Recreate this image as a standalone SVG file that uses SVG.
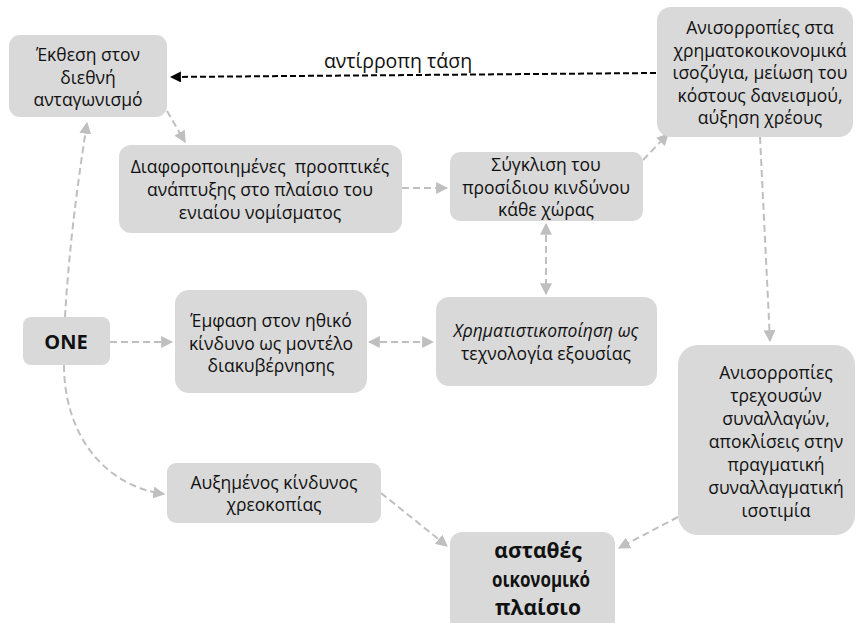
<svg xmlns="http://www.w3.org/2000/svg" width="856" height="623" viewBox="0 0 856 623">
<defs>
<style>
.box{fill:#d9d9d9;stroke:none}
.t{font-family:"Open Sans","Noto Sans","DejaVu Sans",sans-serif;font-size:17.5px;fill:#111;text-anchor:middle}
.b{font-weight:bold}
.h{font-size:21px}
.g{fill:none;stroke:#bfbfbf;stroke-width:2;stroke-dasharray:7 4}
.k{fill:none;stroke:#000;stroke-width:2;stroke-dasharray:6 3}
</style>
<marker id="ag" viewBox="0 0 10 10" refX="9" refY="5" markerWidth="6" markerHeight="6" orient="auto-start-reverse"><path d="M0,0 L10,5 L0,10 z" fill="#bfbfbf"/></marker>
<marker id="ak" viewBox="0 0 10 10" refX="9" refY="5" markerWidth="5.5" markerHeight="5.5" orient="auto"><path d="M0,0 L10,5 L0,10 z" fill="#000"/></marker>
</defs>
<rect width="856" height="623" fill="#fff"/>
<g id="connectors">
<path class="g" d="M65,317 Q70,230 87,123" marker-end="url(#ag)"/>
<path class="g" d="M167,111 L185,142" marker-end="url(#ag)"/>
<path class="g" d="M402,188 L447,188" marker-end="url(#ag)"/>
<path class="g" d="M643,160 L668,134" marker-end="url(#ag)"/>
<path class="g" d="M546,224 L546,294" marker-start="url(#ag)" marker-end="url(#ag)"/>
<path class="g" d="M369,342 L433,342" marker-start="url(#ag)" marker-end="url(#ag)"/>
<path class="g" d="M110,342 L172,342" marker-end="url(#ag)"/>
<path class="g" d="M64,365 C64,430 100,485 164,494" marker-end="url(#ag)"/>
<path class="g" d="M381,493 L447,546" marker-end="url(#ag)"/>
<path class="g" d="M760,137 L770,341" marker-end="url(#ag)"/>
<path class="g" d="M678,517 L619,548" marker-end="url(#ag)"/>
<path class="k" d="M656,73 L171,77" marker-end="url(#ak)"/>
<text class="t" x="398" y="68" style="font-size:19.5px">αντίρροπη τάση</text>
</g>
<g id="n-ekthesi">
<rect class="box" x="9" y="35" width="158" height="82" rx="11"/>
<text class="t" x="88" y="61">Έκθεση στον</text>
<text class="t" x="88" y="83.5">διεθνή</text>
<text class="t" x="88" y="106">ανταγωνισμό</text>
</g>
<g id="n-anisorropies1">
<rect class="box" x="657" y="7" width="196" height="130" rx="14"/>
<text class="t" x="760" y="34">Ανισορροπίες στα</text>
<text class="t" x="760" y="56.5">χρηματοκοικονομικά</text>
<text class="t" x="760" y="79">ισοζύγια, μείωση του</text>
<text class="t" x="760" y="101.5">κόστους δανεισμού,</text>
<text class="t" x="760" y="124">αύξηση χρέους</text>
</g>
<g id="n-diaforopoiimenes">
<rect class="box" x="119" y="145" width="283" height="88" rx="12"/>
<text class="t" x="260" y="173" xml:space="preserve">Διαφοροποιημένες  προοπτικές</text>
<text class="t" x="260" y="196">ανάπτυξης στο πλαίσιο του</text>
<text class="t" x="260" y="219">ενιαίου νομίσματος</text>
</g>
<g id="n-sygklisi">
<rect class="box" x="450" y="152" width="193" height="69" rx="10"/>
<text class="t" x="546" y="171">Σύγκλιση του</text>
<text class="t" x="546" y="193.5">προσίδιου κινδύνου</text>
<text class="t" x="546" y="216">κάθε χώρας</text>
</g>
<g id="n-one">
<rect class="box" x="23" y="317" width="87" height="48" rx="8"/>
<text class="t b" x="66" y="349" style="font-size:20px">ONE</text>
</g>
<g id="n-emfasi">
<rect class="box" x="175" y="290" width="192" height="103" rx="14"/>
<text class="t" x="271" y="327">Έμφαση στον ηθικό</text>
<text class="t" x="271" y="349.5">κίνδυνο ως μοντέλο</text>
<text class="t" x="271" y="372">διακυβέρνησης</text>
</g>
<g id="n-xrimatistikopoiisi">
<rect class="box" x="436" y="297" width="221" height="89" rx="13"/>
<text class="t" x="546" y="337" style="font-style:italic">Χρηματιστικοποίηση ως</text>
<text class="t" x="546" y="360">τεχνολογία εξουσίας</text>
</g>
<g id="n-anisorropies2">
<rect class="box" x="678" y="345" width="177" height="190" rx="20"/>
<text class="t" x="776" y="379">Ανισορροπίες</text>
<text class="t" x="776" y="402">τρεχουσών</text>
<text class="t" x="776" y="425">συναλλαγών,</text>
<text class="t" x="776" y="448">αποκλίσεις στην</text>
<text class="t" x="776" y="471">πραγματική</text>
<text class="t" x="776" y="494">συναλλαγματική</text>
<text class="t" x="776" y="517">ισοτιμία</text>
</g>
<g id="n-xreokopia">
<rect class="box" x="167" y="463" width="214" height="60" rx="9"/>
<text class="t" x="274" y="489">Αυξημένος κίνδυνος</text>
<text class="t" x="274" y="511">χρεοκοπίας</text>
</g>
<g id="n-astathes">
<rect class="box" x="450" y="532" width="165" height="100" rx="12"/>
<text class="t b h" x="538" y="558">ασταθές</text>
<text class="t b h" x="541" y="587" textLength="98" lengthAdjust="spacingAndGlyphs">οικονομικό</text>
<text class="t b h" x="538" y="615">πλαίσιο</text>
</g>
</svg>
